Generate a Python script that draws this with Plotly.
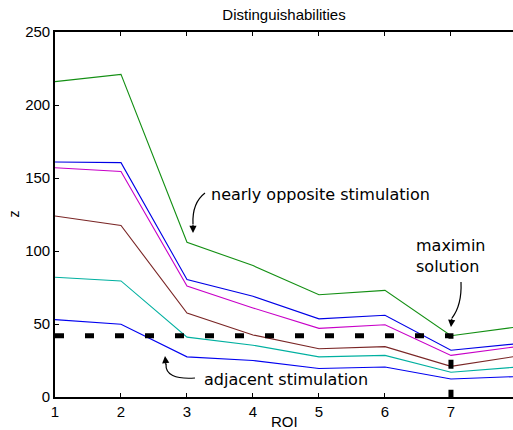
import plotly.graph_objects as go

roi = [1, 2, 3, 4, 5, 6, 7, 8]
green = [216, 221, 106, 90, 70, 73, 42, 48]
blue_hi = [161, 160.5, 80.5, 69, 53.5, 56, 32, 36.5]
magenta = [157, 154.5, 76, 61, 47, 49.5, 28.5, 34.5]
brown = [124, 117.5, 57.5, 42.5, 33, 34.5, 21, 28]
teal = [82, 79.5, 41, 35.5, 27.5, 28.5, 17, 20.5]
blue_lo = [53, 49.8, 27.5, 25, 19.5, 20.5, 12.3, 14]
series = [
    (green, "#138f13"),
    (blue_hi, "#0000e6"),
    (magenta, "#c800c8"),
    (brown, "#7a2626"),
    (teal, "#00b0a0"),
    (blue_lo, "#0000f0"),
]
maximin_level = 42
maximin_roi = 7

fig = go.Figure()
for vals, col in series:
    fig.add_trace(go.Scatter(x=roi, y=vals, mode="lines",
                             line=dict(color=col, width=1.1), showlegend=False))

fig.add_trace(go.Scatter(x=[1, maximin_roi, maximin_roi], y=[maximin_level, maximin_level, 0],
                         mode="lines", line=dict(color="black", width=5, dash="9px,21px"),
                         showlegend=False))

# curved arrow paths (data coords)
arrow_paths = [
    "M 3.273,139.7 Q 3.076,132.9 3.091,118.5",
    "M 3.121,13.0 Q 2.667,11.6 2.682,22.6",
    "M 7.152,78.8 Q 7.167,63.0 7.015,54.1",
]
for p in arrow_paths:
    fig.add_shape(type="path", path=p, xref="x", yref="y",
                  line=dict(color="black", width=1.2))

tips = [(3.091, 112.3, 0, -10), (2.667, 28.1, 1, 10), (7.0, 47.9, 1, -10)]
for tx, ty, ax, ay in tips:
    fig.add_annotation(x=tx, y=ty, xref="x", yref="y", text="", showarrow=True,
                       ax=ax, ay=ay, arrowhead=2, arrowsize=1.2, arrowwidth=1.2,
                       arrowcolor="black")

txtfont = dict(family="DejaVu Sans", size=16, color="black")
fig.add_annotation(x=3.33, y=138.4, xref="x", yref="y", text="nearly opposite stimulation",
                   showarrow=False, xanchor="left", yanchor="middle", font=txtfont)
fig.add_annotation(x=3.23, y=12.3, xref="x", yref="y", text="adjacent stimulation",
                   showarrow=False, xanchor="left", yanchor="middle", font=txtfont)
fig.add_annotation(x=6.44, y=96.5, xref="x", yref="y", text="maximin<br>solution",
                   showarrow=False, xanchor="left", yanchor="middle", align="left",
                   font=txtfont)

axfont = dict(family="Liberation Sans, Arial, sans-serif", size=15, color="black")
fig.add_annotation(x=0.5, y=-0.066, xref="paper", yref="paper", text="ROI",
                   showarrow=False, xanchor="center", yanchor="middle", font=axfont)
fig.add_annotation(x=-0.0917, y=0.5, xref="paper", yref="paper", text="z",
                   showarrow=False, xanchor="center", yanchor="middle", textangle=-90,
                   font=dict(family="Liberation Sans, Arial, sans-serif", size=14, color="black"))

fig.update_layout(
    width=513, height=430,
    margin=dict(l=55, r=0, t=32, b=33),
    paper_bgcolor="white", plot_bgcolor="white",
    title=dict(text="Distinguishabilities", x=0.5, xref="paper", y=1 - 15 / 430,
               yanchor="middle", font=dict(family="Liberation Sans, Arial, sans-serif",
                                           size=15, color="black")),
    font=axfont,
)
fig.update_xaxes(range=[1, 7.94], tickvals=[1, 2, 3, 4, 5, 6, 7], showgrid=False,
                 zeroline=False, showline=True, linecolor="black", linewidth=1.6,
                 mirror="ticks", ticks="inside", ticklen=4, tickcolor="black",
                 tickfont=axfont)
fig.update_yaxes(range=[0, 250], tickvals=[0, 50, 100, 150, 200, 250], showgrid=False,
                 zeroline=False, showline=True, linecolor="black", linewidth=1.6,
                 ticks="inside", ticklen=4, tickcolor="black", tickfont=axfont)

fig.write_html("out.html", config={"displayModeBar": False},
               post_script="document.body.style.margin='0';document.body.style.overflow='hidden';")
